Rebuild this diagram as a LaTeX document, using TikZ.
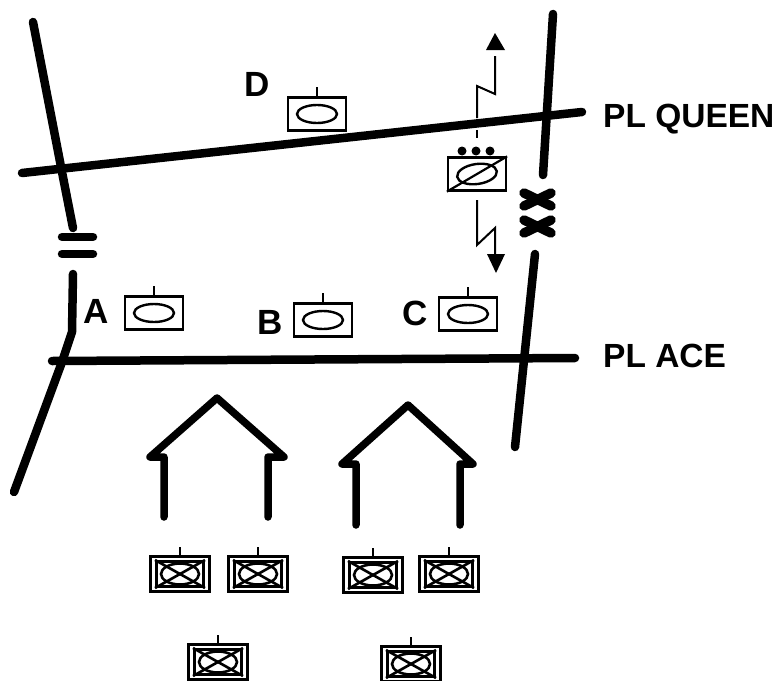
\documentclass[tikz,border=0pt]{standalone}
\usepackage{fontspec}
\setmainfont{Liberation Sans}
\usetikzlibrary{shapes.geometric}
\tikzset{
  road/.style={line width=8.5pt,line cap=round,line join=round},
  wall/.style={line width=7.5pt,line cap=round,line join=round},
  thinl/.style={line width=1.6pt},
  radio/.style={line width=2pt,line join=miter},
  tip/.style={fill=black,draw=none},
  lab/.style={font=\bfseries\fontsize{35}{35}\selectfont,inner sep=0pt,anchor=center},
  roadlab/.style={font=\bfseries\fontsize{33.5}{34}\selectfont,inner sep=0pt,anchor=base west},
  unitbox/.style={draw,line width=2.2pt,minimum width=58pt,minimum height=33pt,inner sep=0pt},
  oval/.style={ellipse,draw,line width=2.4pt,minimum width=40pt,minimum height=18pt,inner sep=0pt},
  outerbox/.style={draw,line width=2.6pt,minimum width=59pt,minimum height=35pt,inner sep=0pt},
  innerbox/.style={draw,line width=3pt,minimum width=47pt,minimum height=25pt,inner sep=0pt},
  xoval/.style={ellipse,draw,line width=2.6pt,minimum width=38pt,minimum height=21pt,inner sep=0pt},
}
% plain unit: #1 name, #2 centre
\newcommand{\plainunit}[2]{%
  \node[unitbox] (#1) at (#2) {};
  \node[oval] (#1o) at (#1.center) {};
  \draw[thinl] (#1.north) -- ++(0,-9);
}
% double-framed crossed unit
\newcommand{\crossunit}[2]{%
  \node[outerbox] (#1) at (#2) {};
  \node[innerbox] (#1i) at (#1.center) {};
  \node[xoval] (#1o) at (#1.center) {};
  \draw[line width=2.6pt] (#1i.north west) -- (#1i.south east);
  \draw[line width=2.6pt] (#1i.south west) -- (#1i.north east);
  \draw[thinl] (#1.north) -- ++(0,-8);
}
\begin{document}
\begin{tikzpicture}[x=1pt,y=-1pt]
\useasboundingbox (0,0) rectangle (778,680);
% roads
\draw[road] (33,22) -- (62,172) -- (73,228);
\draw[road] (73,274) -- (72,332) -- (62,362) -- (14,492);
\draw[road] (22,173) -- (582,112);
\draw[road] (52,361) -- (575,358);
\draw[road] (553,14) -- (543,175);
\draw[road] (535,254) -- (515,447);
% bridge
\draw[road] (62,237) -- (93,237);
\draw[road] (62,254) -- (93,254);
% crossing
\draw[road,line width=9.5pt] (524,193) -- (551,206);
\draw[road,line width=9.5pt] (524,206) -- (551,193);
\draw[road,line width=9.5pt] (524,220) -- (551,233);
\draw[road,line width=9.5pt] (524,233) -- (551,220);
% houses
\draw[wall] (164,517) -- (164,457) -- (150,457) -- (217,398) -- (284,457) -- (268,457) -- (268,517);
\draw[wall] (356,525) -- (356,464) -- (342,464) -- (408,405) -- (473,464) -- (460,464) -- (460,525);
% plain units
\plainunit{uA}{154,313}
\plainunit{uB}{323,320}
\plainunit{uC}{468,314}
\plainunit{uD}{317,114}
% centre unit
\node[unitbox] (uE) at (477,174) {};
\node[ellipse,draw,line width=2.4pt,minimum width=40pt,minimum height=20pt,inner sep=0pt,rotate=8] (uEo) at (uE.center) {};
\draw[line width=2.2pt] (uE.south west) -- (uE.north east);
\foreach \n/\x in {a/462,b/476,c/490}{
  \node[circle,fill=black,minimum size=9pt,inner sep=0pt] (dot\n) at (\x,151) {};
}
% radio arrows
\coordinate (upa) at (495,56);
\coordinate (upb) at (495,94);
\coordinate (upc) at (477,86);
\coordinate (upd) at (477,118);
\draw[radio] (upa) -- (upb) -- (upc) -- (upd);
\draw[thinl] (477,130) -- (477,138);
\fill[tip] (495,33) -- (505,50) -- (486,50) -- cycle;
\coordinate (dna) at (477,200);
\coordinate (dnb) at (477,245);
\coordinate (dnc) at (495,228);
\coordinate (dnd) at (495,254);
\draw[radio] (dna) -- (dnb) -- (dnc) -- (dnd);
\fill[tip] (496,273) -- (487,254) -- (505,254) -- cycle;
% crossed units
\crossunit{x1}{180,574}
\crossunit{x2}{258,574}
\crossunit{x3}{373,575}
\crossunit{x4}{449,574}
\crossunit{x5}{218,662}
\crossunit{x6}{411,664}
% labels
\node[lab] (lA) at (96,311) {A};
\node[lab] (lB) at (270,322) {B};
\node[lab] (lC) at (415,313) {C};
\node[lab] (lD) at (257,84) {D};
\node[roadlab] (lQ) at (603,127) {PL QUEEN};
\node[roadlab] (lP) at (603,367) {PL ACE};
\end{tikzpicture}
\end{document}
